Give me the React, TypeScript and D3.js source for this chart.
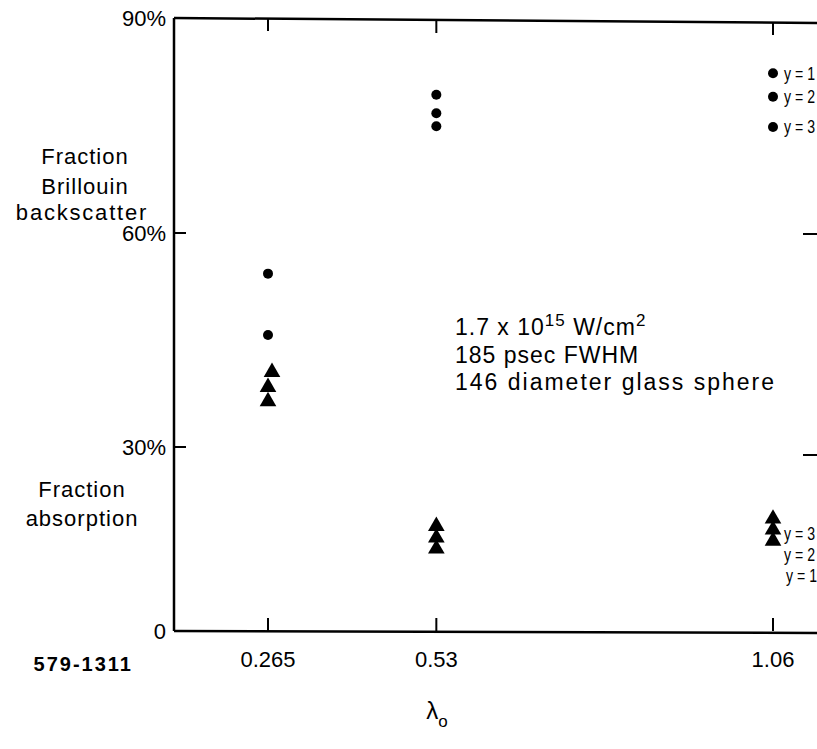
import React from "react";
import * as d3 from "d3";

// wavelength (micron) ticks
const lambdaTicks = [0.265, 0.53, 1.06];
const lambdaLabels = ["0.265", "0.53", "1.06"];

const yTicks = [0, 30, 60, 90];
const yTickLabels = ["0", "30%", "60%", "90%"];

// fraction Brillouin backscatter (%)
const backscatterX = [0.265, 0.265, 0.53, 0.53, 0.53, 1.06, 1.06, 1.06];
const backscatterY = [54.3, 45.7, 79.3, 76.7, 74.9, 82.3, 79.0, 74.8];

// fraction absorption (%)
const absorptionX = [0.265, 0.265, 0.265, 0.53, 0.53, 0.53, 1.06, 1.06, 1.06];
const absorptionY = [40.5, 38.4, 36.4, 17.1, 15.2, 13.4, 18.3, 16.5, 14.7];
const absorptionDx = [4, 0, 0, 0, 0, 0, 0, 0, 0];

const gammaTop = ["y = 1", "y = 2", "y = 3"];
const gammaBottom = ["y = 3", "y = 2", "y = 1"];

const W = 817;
const H = 749;
const left = 174;
const right = 817;
const top = 18;
const bottom = 631;

const font = "'Liberation Sans', Arial, Helvetica, sans-serif";

const App: React.FC = () => {
  const x = d3.scaleLinear().domain([0.265, 1.06]).range([268, 773]);
  // the hand-drawn axis is not quite even, so use a piecewise scale
  const y = d3.scaleLinear().domain([0, 30, 60, 90]).range([bottom, 447, 233, top]);
  const tri = d3.symbol().type(d3.symbolTriangle).size(120)();

  const txt = { fontFamily: font, fill: "#000" } as const;

  return (
    <svg
      width={W}
      height={H}
      style={{ position: "absolute", left: 0, top: 0, background: "#fff" }}
    >
      {/* frame */}
      <g stroke="#000" strokeWidth={2.5} fill="none">
        <line x1={left} y1={top} x2={right} y2={top + 5} />
        <line x1={left} y1={top} x2={left} y2={bottom} />
        <line x1={left} y1={bottom} x2={right} y2={bottom + 2} />
      </g>

      {/* x ticks top and bottom */}
      {lambdaTicks.map((t, i) => (
        <g key={t}>
          <line x1={x(t)} x2={x(t)} y1={bottom} y2={bottom - 13} stroke="#000" strokeWidth={2} />
          <line x1={x(t)} x2={x(t)} y1={top + 1 + i * 2} y2={top + 13 + i * 2} stroke="#000" strokeWidth={2} />
          <text x={x(t)} y={bottom + 36} textAnchor="middle" fontSize={22} {...txt}>
            {lambdaLabels[i]}
          </text>
        </g>
      ))}

      {/* y ticks */}
      {yTicks.map((t, i) => (
        <g key={t}>
          {t > 0 && t < 90 && (
            <>
              <line x1={left} x2={left + 12} y1={y(t)} y2={y(t)} stroke="#000" strokeWidth={2} />
              <line x1={right - 14} x2={right} y1={y(t) + (t === 30 ? 8 : 1)} y2={y(t) + (t === 30 ? 8 : 1)} stroke="#000" strokeWidth={2} />
            </>
          )}
          <text x={left - 8} y={y(t)} dy="0.36em" textAnchor="end" fontSize={22} {...txt}>
            {yTickLabels[i]}
          </text>
        </g>
      ))}

      {/* axis titles */}
      <text x={437} y={H - 30} textAnchor="middle" fontSize={24} {...txt}>
        λ<tspan dy={8} fontSize={17}>o</tspan>
      </text>
      <g textAnchor="middle" fontSize={22} letterSpacing={1} {...txt}>
        <text x={85} y={164}>Fraction</text>
        <text x={85} y={194}>Brillouin</text>
        <text x={82} y={220} letterSpacing={1.8}>backscatter</text>
        <text x={82} y={497}>Fraction</text>
        <text x={82} y={526}>absorption</text>
      </g>
      <text x={133} y={671} textAnchor="end" fontSize={20} fontWeight="bold" letterSpacing={2} {...txt}>
        579-1311
      </text>

      {/* annotation */}
      <g fontSize={23} letterSpacing={1} {...txt}>
        <text x={455} y={335}>
          1.7 x 10<tspan dy={-9} fontSize={17}>15</tspan>
          <tspan dy={9}> W/cm</tspan>
          <tspan dy={-9} fontSize={17}>2</tspan>
        </text>
        <text x={455} y={363}>185 psec FWHM</text>
        <text x={455} y={390} letterSpacing={2}>146 diameter glass sphere</text>
      </g>

      {/* backscatter points */}
      {backscatterX.map((v, i) => (
        <circle key={"b" + i} cx={x(v)} cy={y(backscatterY[i])} r={5} fill="#000" />
      ))}

      {/* absorption points */}
      {absorptionX.map((v, i) => (
        <path
          key={"a" + i}
          d={tri || ""}
          transform={`translate(${x(v) + absorptionDx[i]},${y(absorptionY[i])})`}
          fill="#000"
        />
      ))}

      {/* gamma labels at 1.06 */}
      {gammaTop.map((g, i) => (
        <text
          key={"gt" + i}
          x={x(1.06) + 11}
          y={y(backscatterY[5 + i])}
          dy="0.36em"
          fontSize={18}
          textLength={31}
          lengthAdjust="spacingAndGlyphs"
          {...txt}
        >
          {g}
        </text>
      ))}
      {gammaBottom.map((g, i) => (
        <text
          key={"gb" + i}
          x={x(1.06) + 11 + (i === 2 ? 2 : 0)}
          y={y(absorptionY[6]) + 15 + i * 21}
          dy="0.36em"
          fontSize={18}
          textLength={31}
          lengthAdjust="spacingAndGlyphs"
          {...txt}
        >
          {g}
        </text>
      ))}
    </svg>
  );
};

export default App;
